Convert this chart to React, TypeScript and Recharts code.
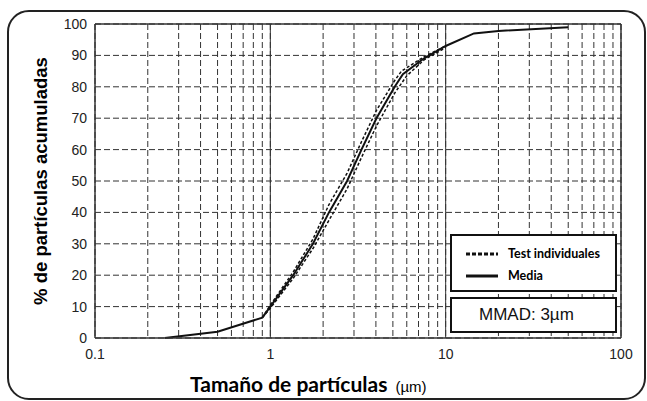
import { CartesianGrid, Line, LineChart, ReferenceLine, XAxis, YAxis } from "recharts";

// particle size (µm) vs cumulative %
const mediaSize = [0.25, 0.5, 0.9, 1, 1.35, 1.75, 2.16, 2.74, 3.31, 4.03, 5.12, 5.7, 7.5, 10, 14.5, 20, 50];
const mediaPct = [0, 2, 6.5, 10, 20, 30, 40, 50, 60, 70, 80, 84, 89, 93, 97, 97.8, 99];

const testASize = [0.9, 1, 1.35, 1.75, 2.16, 2.74, 3.31, 4.03, 5.12, 5.6, 7.5, 10];
const testAPct = [6.5, 10.5, 21, 31.5, 42.5, 52.5, 62.5, 72.5, 82, 85, 89.5, 93];

const testBSize = [0.9, 1, 1.35, 1.75, 2.16, 2.74, 3.31, 4.03, 5.12, 6, 7.5, 10];
const testBPct = [6.5, 9.5, 19, 28.5, 37.5, 47.5, 57.5, 67.5, 78, 83.5, 88.5, 92.5];

const xTicks = [
  0.1, 0.2, 0.3, 0.4, 0.5, 0.6, 0.7, 0.8, 0.9,
  1, 2, 3, 4, 5, 6, 7, 8, 9,
  10, 20, 30, 40, 50, 60, 70, 80, 90, 100,
];
const xLabels = [0.1, 1, 10, 100];
const yTicks = [0, 10, 20, 30, 40, 50, 60, 70, 80, 90, 100];

const toRows = (xs: number[], ys: number[]) => xs.map((x, i) => ({ x, y: ys[i] }));
const media = toRows(mediaSize, mediaPct);
const testA = toRows(testASize, testAPct);
const testB = toRows(testBSize, testBPct);

const INK = "#111";

export default function App() {
  return (
    <div style={{ position: "absolute", left: 0, top: 0, width: 647, height: 401, background: "#fff" }}>
      <div
        style={{
          position: "absolute",
          left: 7,
          top: 10,
          width: 639,
          height: 390,
          border: "2px solid #222",
          borderRadius: 22,
          boxSizing: "border-box",
        }}
      />
      <LineChart
        width={647}
        height={401}
        margin={{ top: 24, right: 26, bottom: 0, left: 0 }}
        style={{ position: "absolute", left: 0, top: 0 }}
      >
        <CartesianGrid stroke="#333" strokeDasharray="6 3" strokeWidth={1} />
        <XAxis
          dataKey="x"
          type="number"
          scale="log"
          domain={[0.1, 100]}
          ticks={xTicks}
          allowDataOverflow
          interval={0}
          height={63}
          tickLine={false}
          tickMargin={5}
          stroke="#333"
          strokeWidth={1.5}
          tick={{ fill: "#222", fontSize: 14, fontFamily: "Liberation Sans, Arial" }}
          tickFormatter={(v: number) => (xLabels.includes(v) ? String(v) : "")}
          label={{
            content: (p: any) => {
              const vb = p.viewBox;
              return (
                <text x={vb.x + 95} y={vb.y + 54} textAnchor="start" fill="#000">
                  <tspan fontFamily="Lato, Open Sans" fontWeight={700} fontSize={21}>
                    Tamaño de partículas
                  </tspan>
                  <tspan dx={8} fontFamily="Liberation Sans, Arial" fontSize={15}>
                    (µm)
                  </tspan>
                </text>
              );
            },
          }}
        />
        <YAxis
          type="number"
          domain={[0, 100]}
          ticks={yTicks}
          width={95}
          tickLine={false}
          stroke="#333"
          strokeWidth={1.5}
          tick={{ fill: "#222", fontSize: 14, fontFamily: "Liberation Sans, Arial" }}
          label={{
            value: "% de partículas acumuladas",
            angle: -90,
            position: "insideLeft",
            dx: 35,
            style: {
              fontFamily: "Liberation Sans, Arial",
              fontWeight: 700,
              fontSize: 18.5,
              fill: "#000",
              textAnchor: "middle",
            },
          }}
        />
        <ReferenceLine x={1} stroke="#333" strokeWidth={1} />
        <ReferenceLine x={10} stroke="#333" strokeWidth={1} />
        <ReferenceLine x={100} stroke="#333" strokeWidth={1.5} />
        <ReferenceLine y={100} stroke="#333" strokeWidth={1.5} />
        <Line data={testA} dataKey="y" stroke={INK} strokeWidth={1.5} strokeDasharray="3 2" dot={false} isAnimationActive={false} />
        <Line data={testB} dataKey="y" stroke={INK} strokeWidth={1.5} strokeDasharray="3 2" dot={false} isAnimationActive={false} />
        <Line data={media} dataKey="y" stroke={INK} strokeWidth={2} dot={false} isAnimationActive={false} />
      </LineChart>

      <div
        style={{
          position: "absolute",
          left: 450,
          top: 234,
          width: 167,
          height: 58,
          border: "2px solid #111",
          background: "#fff",
          boxSizing: "border-box",
          fontFamily: "Lato, Open Sans",
          fontWeight: 700,
          fontSize: 12.5,
          color: "#000",
        }}
      >
        <div style={{ position: "absolute", left: 14, top: 10, display: "flex", alignItems: "center" }}>
          <svg width={32} height={6}>
            <line x1={0} y1={3} x2={32} y2={3} stroke={INK} strokeWidth={3} strokeDasharray="4 2" />
          </svg>
          <span style={{ marginLeft: 10 }}>Test individuales</span>
        </div>
        <div style={{ position: "absolute", left: 14, top: 32, display: "flex", alignItems: "center" }}>
          <svg width={32} height={6}>
            <line x1={0} y1={3} x2={32} y2={3} stroke={INK} strokeWidth={3} />
          </svg>
          <span style={{ marginLeft: 10 }}>Media</span>
        </div>
      </div>
      <div
        style={{
          position: "absolute",
          left: 450,
          top: 297,
          width: 167,
          height: 36,
          border: "2px solid #111",
          background: "#fff",
          boxSizing: "border-box",
          fontFamily: "Liberation Sans, Arial",
          fontSize: 17,
          color: "#111",
          paddingLeft: 27,
          lineHeight: "32px",
        }}
      >
        MMAD: 3µm
      </div>
    </div>
  );
}
